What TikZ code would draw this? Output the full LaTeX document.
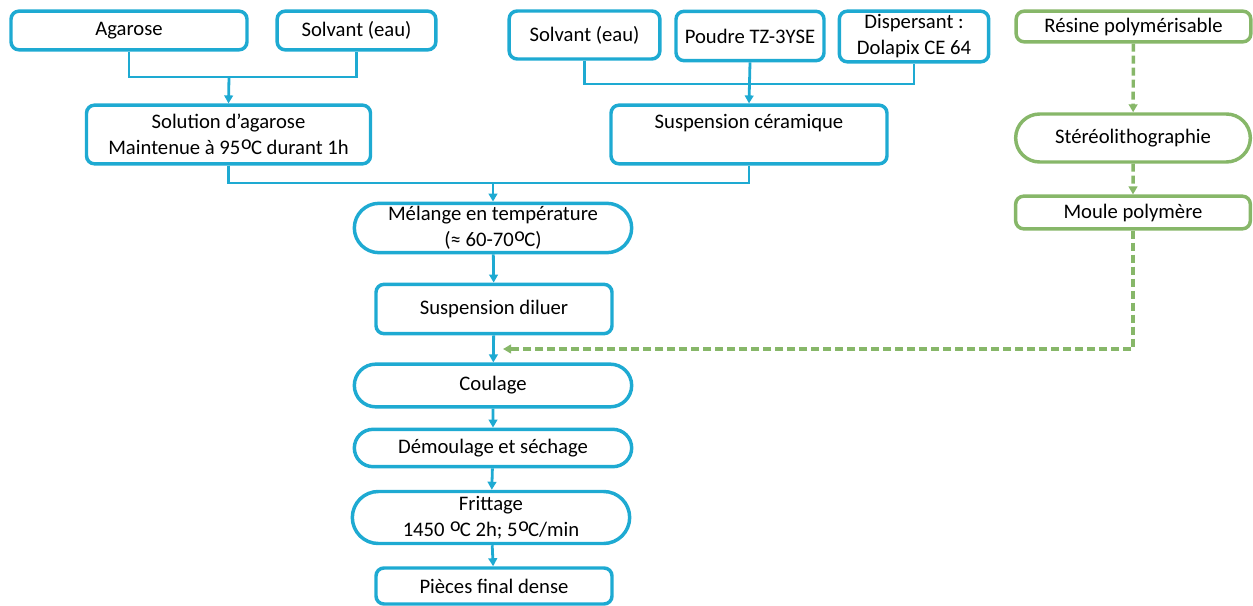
\documentclass[tikz,border=0pt]{standalone}
\usepackage{fontspec}
\setmainfont{Carlito}
\usetikzlibrary{arrows.meta,shapes.misc,positioning}
\definecolor{myblue}{RGB}{30,170,210}
\definecolor{mygreen}{RGB}{135,183,105}
\newcommand{\degc}{\kern.5pt\raisebox{.5ex}{\fontsize{15}{15}\selectfont o}\kern-.5pt}

\tikzset{
  bluebox/.style={draw=myblue,line width=2.6pt,rounded corners=6pt,align=center,inner sep=0pt},
  bluepill/.style={draw=myblue,line width=2.6pt,rounded rectangle,align=center,inner sep=0pt},
  greenbox/.style={draw=mygreen,line width=2.6pt,rounded corners=6pt,align=center,inner sep=0pt},
  greenpill/.style={draw=mygreen,line width=2.6pt,rounded rectangle,align=center,inner sep=0pt},
  blueline/.style={myblue,line width=2.1pt},
  bluearrow/.style={blueline,-{Triangle[width=6.5pt,length=6pt]}},
  greenarrow/.style={mygreen,line width=2.6pt,dash pattern=on 6pt off 3pt,
    -{Triangle[width=6.5pt,length=6pt]}}
}

\begin{document}
\begin{tikzpicture}[x=0.75pt,y=-0.75pt,
    every node/.style={font=\fontsize{15.5}{19.5}\selectfont}]
  \useasboundingbox (0,0) rectangle (1253,606);
  % agarose branch
  \node[bluebox,minimum width=177pt,minimum height=29pt] (agarose) at (129,30.5) {Agarose};
  \node[bluebox,minimum width=119pt,minimum height=29pt] (solvA) at (356.5,30.5) {Solvant (eau)};
  \node[bluebox,minimum width=213pt,minimum height=44pt] (solution) at (228.5,134.5)
    {Solution d’agarose\\Maintenue à 95\degc C durant 1h};
  % ceramic branch
  \node[bluebox,minimum width=113pt,minimum height=36pt] (solvB) at (584.5,35) {Solvant (eau)};
  \node[bluebox,minimum width=111pt,minimum height=37pt] (poudre) at (750,36) {Poudre TZ-3YSE};
  \node[bluebox,minimum width=112pt,minimum height=38pt] (disp) at (914,36.5)
    {Dispersant :\\Dolapix CE 64};
  \node[bluebox,minimum width=207pt,minimum height=44pt] (susp) at (749,134.5)
    {Suspension céramique\\\mbox{}};
  % main line
  \node[bluepill,minimum width=208pt,minimum height=37pt] (melange) at (493,228)
    {Mélange en température\\(≈ 60-70\degc C)};
  \node[bluebox,minimum width=177pt,minimum height=37pt] (diluer) at (494,309) {Suspension diluer};
  \node[bluepill,minimum width=208pt,minimum height=32pt] (coulage) at (493,385.5) {Coulage};
  \node[bluepill,minimum width=208pt,minimum height=28pt] (demoul) at (493,448) {Démoulage et séchage};
  \node[bluepill,minimum width=208pt,minimum height=39pt] (fritt) at (491,517.5)
    {Frittage\\1450 \degc C 2h; 5\degc C/min};
  \node[bluebox,minimum width=177pt,minimum height=27pt] (pieces) at (494,586) {Pièces final dense};
  % mould branch
  \node[greenbox,minimum width=176pt,minimum height=23pt] (resine) at (1133.5,26.5) {Résine polymérisable};
  \node[greenpill,minimum width=176pt,minimum height=36pt] (stereo) at (1133,138) {Stéréolithographie};
  \node[greenbox,minimum width=176pt,minimum height=24.5pt] (moule) at (1133,212.5) {Moule polymère};

  \coordinate (jA) at (229,77);
  \coordinate (jB) at (750,84);
  \coordinate (jC) at (493,183);
  \coordinate (jG) at (503,349);

  \draw[blueline] (agarose.south) |- (jA) -| (solvA.south);
  \draw[bluearrow] (jA) -- (solution.north);
  \draw[blueline] (solvB.south) |- (jB) -| (disp.south);
  \draw[bluearrow] (poudre.south) -- (susp.north);
  \draw[blueline] (solution.south) |- (jC) -| (susp.south);
  \draw[bluearrow] (jC) -- (melange.north);
  \draw[bluearrow] (melange) -- (diluer);
  \draw[bluearrow] (diluer) -- (coulage);
  \draw[bluearrow] (coulage) -- (demoul);
  \draw[bluearrow] (demoul) -- (fritt);
  \draw[bluearrow] (fritt) -- (pieces);

  \draw[greenarrow] (resine) -- (stereo);
  \draw[greenarrow] (stereo) -- (moule);
  \draw[greenarrow] (moule.south) |- (jG);
\end{tikzpicture}
\end{document}
